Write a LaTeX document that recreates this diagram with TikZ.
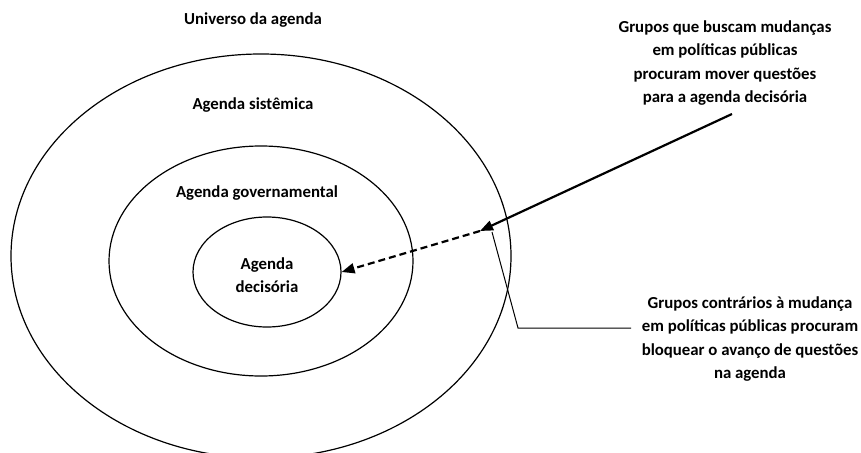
\documentclass[tikz,border=0pt]{standalone}
\usepackage{fontspec}
\setmainfont{Carlito}
\usetikzlibrary{shapes.geometric,arrows.meta}
\begin{document}
\begin{tikzpicture}[x=1pt,y=-1pt,
  ring/.style={draw=black,ellipse,line width=1.2pt,inner sep=0pt},
  lbl/.style={font=\fontsize{16.8}{23.3}\selectfont\bfseries,align=center,inner sep=0pt},
  bigarrow/.style={line width=2.2pt,-{Triangle[length=13pt,width=10pt]}},
  dasharrow/.style={line width=2.2pt,dash pattern=on 7pt off 4pt,-{Triangle[length=13pt,width=10pt]}},
  callout/.style={line width=1pt}]
\useasboundingbox (0,0) rectangle (861,452);
\clip (0,0) rectangle (861,452);
\node[ring,minimum width=500pt,minimum height=404pt] (outer) at (261,256) {};
\node[ring,minimum width=304pt,minimum height=230pt] (middle) at (261,261) {};
\node[ring,minimum width=148pt,minimum height=110pt] (inner) at (267,272) {};
\node[lbl] (univ) at (253,20) {Universo da agenda};
\node[lbl] (sist) at (253,105) {Agenda sistêmica};
\node[lbl] (gov) at (257,193) {Agenda governamental};
\node[lbl] (dec) at (267,275.5) {Agenda\\decisória};
\node[lbl] (grpA) at (725,63) {Grupos que buscam mudanças\\em políticas públicas\\procuram mover questões\\para a agenda decisória};
\node[lbl] (grpB) at (750,339) {Grupos contrários à mudança\\em políticas públicas procuram\\bloquear o avanço de questões\\na agenda};
\coordinate (meet) at (480,231);
\coordinate (startA) at (732,114);
\coordinate (elbow) at (518,328);
\coordinate (endB) at (631,328);
\coordinate (foot) at (492,232);
\draw[bigarrow] (startA) -- (meet);
\draw[dasharrow] (meet) -- (inner.east);
\draw[callout] (endB) -- (elbow) -- (foot);
\end{tikzpicture}
\end{document}
